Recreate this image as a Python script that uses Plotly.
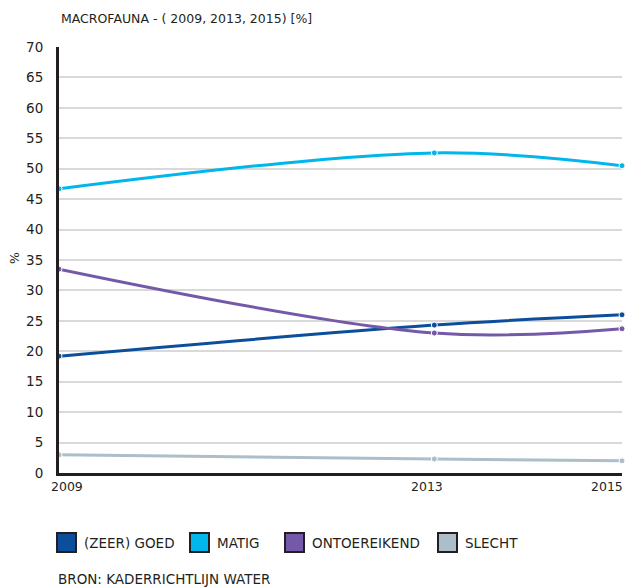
import plotly.graph_objects as go

# Macrofauna status per assessment year, share of water bodies [%]
years = [2009, 2013, 2015]
series_names = ["(ZEER) GOED", "MATIG", "ONTOEREIKEND", "SLECHT"]
zeer_goed = [19.2, 24.3, 26.0]
matig = [46.7, 52.6, 50.5]
ontoereikend = [33.5, 23.0, 23.7]
slecht = [3.0, 2.3, 2.0]
y_ticks = list(range(0, 75, 5))

colors = ["#0b4f9c", "#00b6ea", "#7459a8", "#abbec9"]
values = [zeer_goed, matig, ontoereikend, slecht]

FONT = "DejaVu Sans"
TEXT = "#231f20"
W, H = 627, 587
L, R, T, B = 59, 5, 47, 114
PW, PH = W - L - R, H - T - B


def px(x):
    return (x - L) / PW


def py(y):
    return (H - B - y) / PH


fig = go.Figure()
for name, vals, col in zip(series_names, values, colors):
    fig.add_trace(go.Scatter(
        x=years, y=vals, name=name, mode="lines+markers",
        line=dict(color=col, width=3, shape="spline", smoothing=1),
        marker=dict(color=col, size=6, line=dict(color="white", width=1)),
        showlegend=False, cliponaxis=False,
    ))

# custom legend: framed colour squares with labels
legend_x = [56, 189, 284, 437]
shapes = []
annotations = []
for name, col, lx in zip(series_names, colors, legend_x):
    shapes.append(dict(type="rect", xref="paper", yref="paper",
                       x0=px(lx + 1), x1=px(lx + 20), y0=py(552), y1=py(533),
                       fillcolor=col, line=dict(color="#231f20", width=2)))
    annotations.append(dict(text=name, xref="paper", yref="paper",
                            x=px(lx + 26), y=py(543), xanchor="left", yanchor="middle",
                            showarrow=False, font=dict(family=FONT, size=13.5, color=TEXT)))

# year labels under the axis
year_anchor = {2009: ("left", -10), 2013: ("center", -7), 2015: ("right", 3)}
for yr in years:
    anchor, shift = year_anchor[yr]
    annotations.append(dict(text=str(yr), x=yr, xref="x", y=py(486), yref="paper",
                            xanchor=anchor, yanchor="middle", xshift=shift, showarrow=False,
                            font=dict(family=FONT, size=12.5, color=TEXT)))

annotations.append(dict(text="MACROFAUNA - ( 2009, 2013, 2015) [%]", xref="paper", yref="paper",
                        x=px(59), y=py(18), xanchor="left", yanchor="middle", showarrow=False,
                        font=dict(family=FONT, size=12.5, color=TEXT)))
annotations.append(dict(text="BRON: KADERRICHTLIJN WATER", xref="paper", yref="paper",
                        x=px(56), y=py(579), xanchor="left", yanchor="middle", showarrow=False,
                        font=dict(family=FONT, size=13.5, color=TEXT)))
annotations.append(dict(text="%", xref="paper", yref="paper", textangle=-90,
                        x=px(14), y=py(258), xanchor="center", yanchor="middle", showarrow=False,
                        font=dict(family=FONT, size=12.5, color=TEXT)))

fig.update_layout(
    width=W, height=H,
    margin=dict(l=L, r=R, t=T, b=B),
    paper_bgcolor="white", plot_bgcolor="white",
    shapes=shapes, annotations=annotations,
    font=dict(family=FONT, size=13, color=TEXT),
)
fig.update_xaxes(range=[2009, 2015], showticklabels=False, showgrid=False, zeroline=False,
                 showline=True, linecolor="#231f20", linewidth=3, ticks="")
fig.update_yaxes(range=[0, 70], tickvals=y_ticks, showgrid=True, gridcolor="#d9d9d9",
                 gridwidth=1.5, zeroline=False, showline=True, linecolor="#231f20", linewidth=3,
                 ticks="", ticklabelstandoff=10, tickfont=dict(family=FONT, size=13.5, color=TEXT))

fig.write_html("out.html")
